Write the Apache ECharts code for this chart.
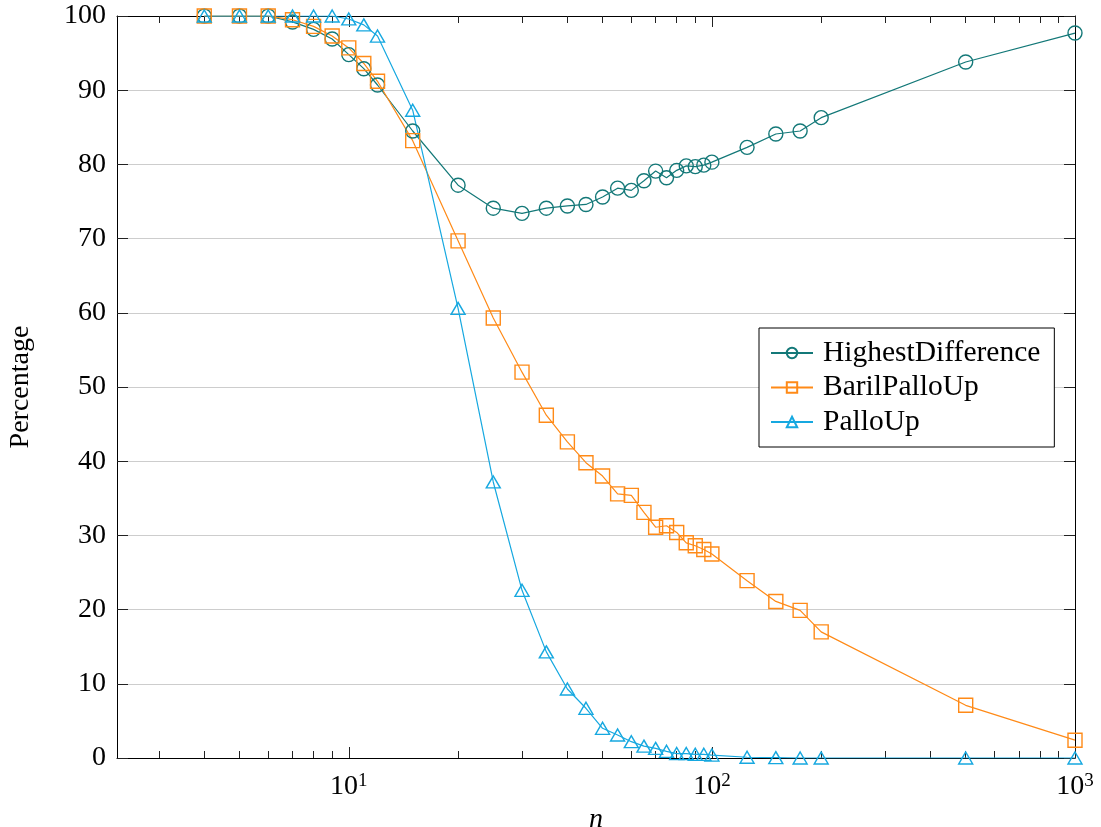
<!DOCTYPE html>
<html>
<head>
<meta charset="utf-8">
<script src="https://cdn.jsdelivr.net/npm/echarts@6/dist/echarts.min.js"></script>
<style>
html,body{margin:0;padding:0;background:#fff;}
#chart{width:1101px;height:827px;}
</style>
</head>
<body>
<div id="chart"></div>
<script>
const nValues = [4,5,6,7,8,9,10,11,12,15,20,25,30,35,40,45,50,55,60,65,70,75,80,85,90,95,100,125,150,175,200,500,1000];
const highestDifference = [100,100,100,99.2,98.2,96.9,94.8,92.9,90.7,84.5,77.2,74.1,73.4,74.1,74.4,74.6,75.6,76.8,76.5,77.8,79.1,78.2,79.2,79.8,79.7,79.9,80.3,82.3,84.1,84.5,86.3,93.8,97.7];
const barilPalloUp = [100,100,100,99.5,98.6,97.3,95.7,93.6,91.2,83.2,69.7,59.3,52.0,46.2,42.6,39.8,38.0,35.6,35.4,33.1,31.1,31.3,30.4,29.0,28.6,28.1,27.5,23.9,21.1,19.9,17.0,7.1,2.4];
const palloUp = [100,100,100,100,100,100,99.6,98.8,97.3,87.3,60.6,37.2,22.6,14.3,9.3,6.7,4.0,3.1,2.2,1.6,1.3,0.9,0.6,0.6,0.5,0.5,0.4,0.1,0.05,0,0,0,0];
const seriesNames = ['HighestDifference','BarilPalloUp','PalloUp'];
const majorXTicks = [10,100,1000];
const minorXTicks = [3,4,5,6,7,8,9,20,30,40,50,60,70,80,90,200,300,400,500,600,700,800,900];
const xMin = 2.3, xMax = 1000;

const FONT = 'Liberation Serif';
const colors = ['#137878','#ff8a17','#16a8e0'];

function pair(arr){ return nValues.map((x,i)=>[x,arr[i]]); }

function xAxisBase(pos, ticks, len, withLine, withLabel){
  return {
    type:'log', logBase:10, min:xMin, max:xMax, position:pos,
    axisLine:{show:withLine, onZero:false, lineStyle:{color:'#000', width:1}},
    axisTick:{show:true, inside:true, length:len, customValues:ticks, lineStyle:{color:'#222', width:1}},
    axisLabel:withLabel ? {
      show:true, customValues:ticks, margin:14,
      formatter:function(v){ return '{b|10}{s|' + Math.round(Math.log10(v)) + '}'; },
      rich:{ b:{fontFamily:FONT, fontSize:28, color:'#000'}, s:{fontFamily:FONT, fontSize:19, color:'#000', padding:[0,0,11,0]} }
    } : {show:false},
    splitLine:{show:false}, minorTick:{show:false},
    name: withLabel ? 'n' : '',
    nameLocation:'middle', nameGap:40,
    nameTextStyle:{fontFamily:FONT, fontSize:28, fontStyle:'italic', color:'#000'}
  };
}

const option = {
  backgroundColor:'#fff',
  animation:false,
  grid:{left:117, right:26, top:16, bottom:69, containLabel:false, outerBoundsMode:'none'},
  legend:{
    orient:'vertical', left:759, top:328,
    backgroundColor:'#fff', borderColor:'#000', borderWidth:1, borderRadius:0,
    padding:[10,14,10,11], itemWidth:42, itemHeight:13, itemGap:4.5,
    textStyle:{fontFamily:FONT, fontSize:29.5, color:'#000', lineHeight:28, padding:[0,0,0,5]},
    data:seriesNames
  },
  xAxis:[
    xAxisBase('bottom', majorXTicks, 11, true, true),
    xAxisBase('top', majorXTicks, 11, true, false),
    xAxisBase('top', minorXTicks, 7, false, false),
    xAxisBase('bottom', minorXTicks, 7, false, false)
  ],
  yAxis:[
    {type:'value', min:0, max:100, interval:10, position:'left',
     axisLine:{show:true, lineStyle:{color:'#000', width:1}},
     axisTick:{show:true, inside:true, length:11, lineStyle:{color:'#222'}},
     axisLabel:{fontFamily:FONT, fontSize:28, color:'#000', margin:11},
     splitLine:{show:true, lineStyle:{color:'#cdcdcd', width:1.2}},
     name:'Percentage', nameLocation:'middle', nameGap:82,
     nameTextStyle:{fontFamily:FONT, fontSize:28, color:'#000'}},
    {type:'value', min:0, max:100, interval:10, position:'right',
     axisLine:{show:true, lineStyle:{color:'#000', width:1}},
     axisTick:{show:true, inside:true, length:11, lineStyle:{color:'#222'}},
     axisLabel:{show:false}, splitLine:{show:false}}
  ],
  series:[
    {name:seriesNames[0], type:'line', data:pair(highestDifference), symbol:'circle', symbolSize:14,
     lineStyle:{color:colors[0], width:1.2}, itemStyle:{color:'rgba(255,255,255,0)', borderColor:colors[0], borderWidth:1.4},
     color:colors[0]},
    {name:seriesNames[1], type:'line', data:pair(barilPalloUp), symbol:'rect', symbolSize:14,
     lineStyle:{color:colors[1], width:1.2}, itemStyle:{color:'rgba(255,255,255,0)', borderColor:colors[1], borderWidth:1.4},
     color:colors[1]},
    {name:seriesNames[2], type:'line', data:pair(palloUp), symbol:'triangle', symbolSize:[14,12],
     lineStyle:{color:colors[2], width:1.2}, itemStyle:{color:'rgba(255,255,255,0)', borderColor:colors[2], borderWidth:1.4},
     color:colors[2]}
  ]
};
const chart = echarts.init(document.getElementById('chart'), null, {renderer:'canvas'});
chart.setOption(option);
</script>
</body>
</html>
